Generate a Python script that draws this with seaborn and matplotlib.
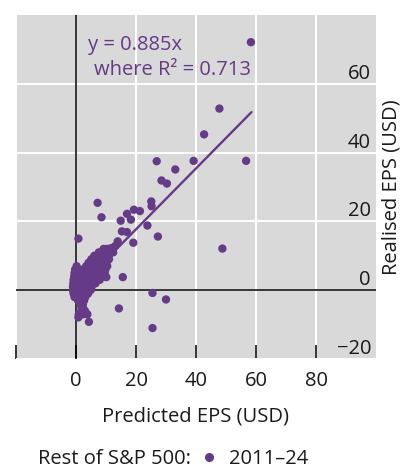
import matplotlib
matplotlib.use("Agg")
import matplotlib.pyplot as plt
from matplotlib.lines import Line2D
import seaborn as sns
import pandas as pd

# Predicted vs realised EPS, rest of S&P 500, 2011-24
pred_eps = [
    # outer points
    58.3, 47.8, 42.7, 26.9, 33.1, 39.2, 56.7, 28.5, 30.3,
    7.2, 8.5, 25.1, 25.2, 14.9, 17.0, 18.3, 19.3, 21.3, 23.8, 27.3,
    15.3, 17.0, 19.1, 13.9, 0.8, 48.8, 15.6, 10.1, 25.5, 30.0,
    14.3, 25.5, 0.8, 4.3, 11.6, 13.0, 12.4,
    # dense core
    9.2, 10.3, 11.4,
    7.6, 8.8, 10.0, 11.3,
    6.1, 7.3, 8.5, 9.7, 10.9,
    5.1, 6.3, 7.5, 8.7, 9.9, 11.0,
    4.2, 5.4, 6.6, 7.8, 9.0, 10.2,
    0.2, 3.4, 4.6, 5.8, 7.0, 8.2, 9.4, 10.4,
    -0.3, 1.0, 2.3, 3.6, 4.9, 6.2, 7.5, 8.7, 9.8,
    -0.5, 0.8, 2.1, 3.4, 4.7, 6.0, 7.3, 8.5, 9.6,
    -0.6, 0.7, 2.0, 3.3, 4.6, 5.9, 7.2, 8.4, 9.5,
    -0.8, 0.5, 1.8, 3.1, 4.4, 5.6, 6.8, 7.9,
    -0.9, 0.4, 1.7, 3.0, 4.3, 5.3, 6.5,
    -1.0, 0.3, 1.6, 2.9, 4.0, 5.2,
    -1.0, 0.3, 1.6, 2.8, 3.8, 4.9,
    -0.8, 0.5, 1.8, 3.0, 4.0,
    -0.5, 0.8, 2.0, 3.1,
    0.7, 1.7, 2.7,
    1.5, 2.3,
    1.8, 2.3,
    1.8, 3.0,
    0.9, 2.4, 3.8,
]
real_eps = [
    72.1, 52.8, 45.3, 37.5, 35.1, 37.6, 37.6, 31.9, 31.0,
    25.4, 21.2, 25.8, 24.4, 20.2, 22.2, 20.5, 23.4, 23.0, 18.8, 15.6,
    17.1, 16.9, 13.8, 14.2, 15.0, 12.1, 3.8, 3.8, -0.8, -2.7,
    -5.3, -11.0, -7.9, -9.2, 12.2, 12.8, 11.0,
    12.0, 12.0, 12.0,
    11.0, 11.0, 11.0, 11.0,
    10.0, 10.0, 10.0, 10.0, 10.0,
    9.0, 9.0, 9.0, 9.0, 9.0, 9.0,
    8.0, 8.0, 8.0, 8.0, 8.0, 8.0,
    7.0, 7.0, 7.0, 7.0, 7.0, 7.0, 7.0, 7.0,
    6.0, 6.0, 6.0, 6.0, 6.0, 6.0, 6.0, 6.0, 6.0,
    5.0, 5.0, 5.0, 5.0, 5.0, 5.0, 5.0, 5.0, 5.0,
    4.0, 4.0, 4.0, 4.0, 4.0, 4.0, 4.0, 4.0, 4.0,
    3.0, 3.0, 3.0, 3.0, 3.0, 3.0, 3.0, 3.0,
    2.0, 2.0, 2.0, 2.0, 2.0, 2.0, 2.0,
    1.0, 1.0, 1.0, 1.0, 1.0, 1.0,
    0.0, 0.0, 0.0, 0.0, 0.0, 0.0,
    -1.0, -1.0, -1.0, -1.0, -1.0,
    -2.0, -2.0, -2.0, -2.0,
    -3.0, -3.0, -3.0,
    -4.0, -4.0,
    -5.0, -5.0,
    -6.0, -6.0,
    -7.0, -7.0, -7.0,
]

slope = 0.885
r_squared = 0.713
fit_x = [0.0, 58.5]
fit_y = [slope * v for v in fit_x]

x_ticks = [-20, 0, 20, 40, 60, 80]
x_tick_labels = ["", "0", "20", "40", "60", "80"]
y_ticks = [-20, 0, 20, 40, 60]
y_tick_labels = ["\u221220", "0", "20", "40", "60"]

purple = "#653a86"
ink = "#1a1a1a"
fs = 14.5

sns.set_theme(style="darkgrid", rc={
    "axes.facecolor": "#d9d9d9",
    "grid.color": "white",
    "grid.linewidth": 1.4,
})
plt.rcParams["font.family"] = ["Open Sans", "DejaVu Sans"]
plt.rcParams["font.size"] = fs

df = pd.DataFrame({"pred": pred_eps, "real": real_eps})
fit = pd.DataFrame({"x": fit_x, "y": fit_y})

fig = plt.figure(figsize=(4.04, 4.70), dpi=100)
ax = fig.add_axes([16 / 404, 1 - 359 / 470, 360 / 404, 344 / 470])

ax.axhline(0, color="black", lw=1.1, zorder=1.5)
ax.axvline(0, color="black", lw=1.1, zorder=1.5)

sns.lineplot(data=fit, x="x", y="y", color=purple, lw=1.7, ax=ax, zorder=2)
sns.scatterplot(data=df, x="pred", y="real", color=purple, s=36,
                linewidth=0, edgecolor="none", ax=ax, zorder=3, legend=False)

ax.set_xlim(-20, 100)
ax.set_ylim(-20, 80)
for s in ax.spines.values():
    s.set_visible(False)

ax.set_xticks(x_ticks, x_tick_labels)
ax.tick_params(axis="x", direction="in", length=10, width=1.1, color="black",
               bottom=True, pad=9, labelsize=fs, labelcolor=ink)
ax.set_yticks(y_ticks, y_tick_labels)
ax.tick_params(axis="y", left=False, right=False, length=0, labelleft=False,
               labelright=True, pad=-3.6, labelsize=fs, labelcolor=ink)
for lab in ax.get_yticklabels():
    lab.set_horizontalalignment("right")
    lab.set_verticalalignment("bottom")

ax.set_xlabel("Predicted EPS (USD)", fontsize=fs, color=ink, labelpad=11)
ax.yaxis.set_label_position("right")
ax.set_ylabel("Realised EPS (USD)", fontsize=fs, color=ink, labelpad=4)

ax.text(4.0, 69.7, f"y = {slope:.3f}x", color=purple, fontsize=fs,
        ha="left", va="baseline")
ax.text(6.0, 62.7, f"where R\u00b2 = {r_squared:.3f}", color=purple,
        fontsize=fs, ha="left", va="baseline")

handle = Line2D([], [], marker="o", ls="", color=purple, markersize=5.5)
leg = fig.legend(handles=[handle], labels=["2011\u201324"], loc="lower left",
                 bbox_to_anchor=(204 / 404, 0.003), frameon=False, borderpad=0,
                 borderaxespad=0, handlelength=0.5, handletextpad=0.72,
                 fontsize=fs, labelcolor=ink)
fig.canvas.draw()
# put the series caption on the same baseline as the legend entry
renderer = fig.canvas.get_renderer()
leg_text = leg.get_texts()[0]
bb = leg_text.get_window_extent(renderer)
_, _, lp_desc = renderer.get_text_width_height_descent(
    "lp", leg_text.get_fontproperties(), ismath=False)
baseline = (bb.y0 + lp_desc) / fig.bbox.height
fig.text(38 / 404, baseline, "Rest of S&P 500:", color=ink,
         fontsize=fs, ha="left", va="baseline")

fig.savefig("out.png", dpi=100)
